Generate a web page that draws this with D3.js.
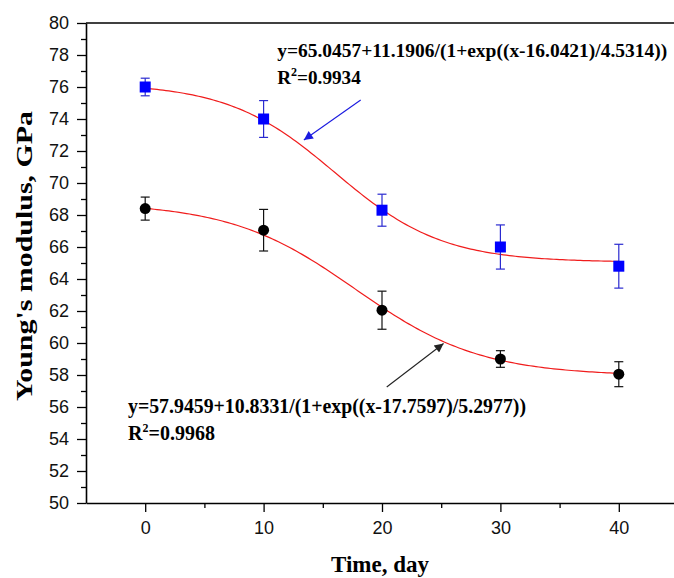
<!DOCTYPE html>
<html>
<head>
<meta charset="utf-8">
<script src="https://cdn.jsdelivr.net/npm/d3@7/dist/d3.min.js"></script>
<style>
  html, body { margin: 0; padding: 0; background: #fff; }
  svg { display: block; }
</style>
</head>
<body>
<svg id="chart" width="674" height="578"></svg>
<script>
// Young's modulus over immersion time, two specimen groups with Boltzmann fits
const days = [0, 10, 20, 30, 40];
const upperMean = [76.0, 74.0, 68.3, 66.0, 64.8];
const upperErr = [0.55, 1.15, 1.0, 1.38, 1.37];
const lowerMean = [68.4, 67.05, 62.05, 59.0, 58.05];
const lowerErr = [0.72, 1.3, 1.19, 0.52, 0.78];

// Fit parameters: y = base + amp / (1 + exp((x - x0) / dx))
const upperFit = [65.0457, 11.1906, 16.0421, 4.5314];
const lowerFit = [57.9459, 10.8331, 17.7597, 5.2977];
const upperEquation = "y=65.0457+11.1906/(1+exp((x-16.0421)/4.5314))";
const upperR2 = "=0.9934";
const lowerEquation = "y=57.9459+10.8331/(1+exp((x-17.7597)/5.2977))";
const lowerR2 = "=0.9968";

const yMajorTicks = d3.range(50, 81, 2);
const yMinorTicks = d3.range(51, 80, 2);
const xMajorTicks = [0, 10, 20, 30, 40];
const xMinorTicks = [5, 15, 25, 35];

const svg = d3.select("#chart");
const x = d3.scaleLinear().domain([-5, 45]).range([86, 678]);
const y = d3.scaleLinear().domain([50, 80]).range([503, 23]);

const serif = "'Liberation Serif', 'Times New Roman', serif";
const sans = "'Liberation Sans', Arial, sans-serif";

// frame top line
svg.append("line")
  .attr("x1", x(-5)).attr("x2", x(45))
  .attr("y1", y(80)).attr("y2", y(80))
  .attr("stroke", "#000").attr("stroke-width", 1.6);

// y axis
svg.append("g").attr("transform", `translate(${x(-5)},0)`)
  .call(d3.axisLeft(y).tickValues(yMajorTicks).tickSize(9).tickPadding(8).tickSizeOuter(0));
svg.append("g").attr("transform", `translate(${x(-5)},0)`)
  .call(d3.axisLeft(y).tickValues(yMinorTicks).tickSize(5).tickFormat("").tickSizeOuter(0))
  .select(".domain").remove();

// x axis
svg.append("g").attr("transform", `translate(0,${y(50)})`)
  .call(d3.axisBottom(x).tickValues(xMajorTicks).tickSize(9).tickPadding(9).tickSizeOuter(0));
svg.append("g").attr("transform", `translate(0,${y(50)})`)
  .call(d3.axisBottom(x).tickValues(xMinorTicks).tickSize(5).tickFormat("").tickSizeOuter(0))
  .select(".domain").remove();

svg.selectAll(".domain").attr("stroke-width", 1.6);
svg.selectAll(".tick line").attr("stroke-width", 1.3);
svg.selectAll(".tick text")
  .attr("font-family", sans).attr("font-size", 18).attr("fill", "#111");

// axis titles
svg.append("text")
  .attr("x", (x(-5) + x(45)) / 2 - 2).attr("y", 572)
  .attr("text-anchor", "middle")
  .attr("font-family", serif).attr("font-weight", "bold").attr("font-size", 23)
  .text("Time, day");
svg.append("text")
  .attr("transform", "translate(32,256) rotate(-90)")
  .attr("text-anchor", "middle")
  .attr("font-family", serif).attr("font-weight", "bold").attr("font-size", 24)
  .attr("textLength", 290).attr("lengthAdjust", "spacingAndGlyphs")
  .text("Young's modulus, GPa");

// fitted curves
const sample = d3.range(0, 40.001, 0.25);
const boltzmann = p => t => p[0] + p[1] / (1 + Math.exp((t - p[2]) / p[3]));
const line = d3.line().x(d => x(d[0])).y(d => y(d[1]));
[upperFit, lowerFit].forEach(p => {
  const f = boltzmann(p);
  svg.append("path")
    .datum(sample.map(t => [t, f(t)]))
    .attr("d", line)
    .attr("fill", "none").attr("stroke", "#f01c1c").attr("stroke-width", 1.2);
});

// error bars
function errorBars(means, errs, color) {
  const g = svg.append("g").attr("stroke", color).attr("stroke-width", 1.2);
  days.forEach((d, i) => {
    const cx = x(d), lo = y(means[i] - errs[i]), hi = y(means[i] + errs[i]);
    g.append("line").attr("x1", cx).attr("x2", cx).attr("y1", lo).attr("y2", hi);
    g.append("line").attr("x1", cx - 4.5).attr("x2", cx + 4.5).attr("y1", lo).attr("y2", lo);
    g.append("line").attr("x1", cx - 4.5).attr("x2", cx + 4.5).attr("y1", hi).attr("y2", hi);
  });
}
errorBars(upperMean, upperErr, "#2a2ad0");
errorBars(lowerMean, lowerErr, "#111");

// markers
svg.append("g").selectAll("rect").data(days).join("rect")
  .attr("x", (d) => x(d) - 5.5).attr("y", (d, i) => y(upperMean[i]) - 5.5)
  .attr("width", 11).attr("height", 11)
  .attr("fill", "#0000ff");
svg.append("g").selectAll("circle").data(days).join("circle")
  .attr("cx", d => x(d)).attr("cy", (d, i) => y(lowerMean[i]))
  .attr("r", 5.5).attr("fill", "#000");

// equation labels
function equation(tx, ty, eq, r2, size, len) {
  const t = svg.append("g")
    .attr("font-family", serif).attr("font-weight", "bold").attr("font-size", size)
    .attr("fill", "#000");
  t.append("text").attr("x", x(tx)).attr("y", y(ty))
    .attr("textLength", len).attr("lengthAdjust", "spacingAndGlyphs").text(eq);
  const r = t.append("text").attr("x", x(tx)).attr("y", y(ty) + 27);
  r.append("tspan").text("R");
  r.append("tspan").attr("font-size", 12).attr("dy", -8).text("2");
  r.append("tspan").attr("dy", 8).text(r2);
}
equation(11.15, 77.85, upperEquation, upperR2, 19.2, 390);
equation(-1.45, 55.6, lowerEquation, lowerR2, 20, 398);

// pointer arrows
const defs = svg.append("defs");
function arrow(id, color, from, to) {
  defs.append("marker").attr("id", id)
    .attr("viewBox", "0 0 10 10").attr("refX", 10).attr("refY", 5)
    .attr("markerWidth", 11).attr("markerHeight", 9)
    .attr("markerUnits", "userSpaceOnUse").attr("orient", "auto")
    .append("path").attr("d", "M0,0 L10,5 L0,10 Z").attr("fill", color);
  svg.append("line")
    .attr("x1", x(from[0])).attr("y1", y(from[1]))
    .attr("x2", x(to[0])).attr("y2", y(to[1]))
    .attr("stroke", color).attr("stroke-width", 1.1)
    .attr("marker-end", `url(#${id})`);
}
arrow("arrowBlue", "#1a1ae0", [18.2, 75.19], [13.4, 72.69]);
arrow("arrowBlack", "#222", [20.4, 57.25], [25.2, 59.97]);
</script>
</body>
</html>
